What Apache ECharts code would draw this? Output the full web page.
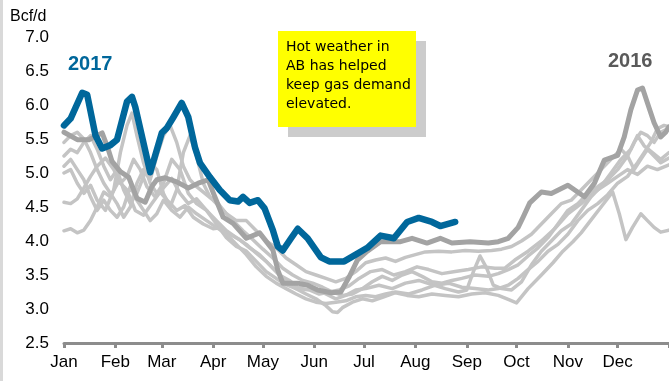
<!DOCTYPE html>
<html>
<head>
<meta charset="utf-8">
<script src="https://cdn.jsdelivr.net/npm/echarts@6/dist/echarts.min.js"></script>
<style>
  html, body { margin: 0; padding: 0; background: #fff; }
  #chart { width: 669px; height: 381px; }
</style>
</head>
<body>
<div id="chart"></div>
<script>
// Alberta gas demand, Bcf/d, by day of year
const monthNames = ['Jan', 'Feb', 'Mar', 'Apr', 'May', 'Jun', 'Jul', 'Aug', 'Sep', 'Oct', 'Nov', 'Dec'];
const monthStarts = [0, 31, 59, 90, 120, 151, 181, 212, 243, 273, 304, 334, 365];

// Earlier years (light grey)
const yearA = [[0,4.15],[4,4.18],[8,4.12],[12,4.16],[16,4.30],[20,4.50],[24,4.72],[28,4.65],[33,4.88],[38,4.75],[43,4.45],[48,4.38],[53,4.55],[58,4.72],[63,4.58],[68,4.45],[73,4.52],[78,4.35],[84,4.25],[90,4.18],[95,4.20],[100,4.10],[106,4.02],[112,3.90],[118,3.80],[124,3.65],[130,3.50],[136,3.42],[142,3.30],[148,3.28],[154,3.22],[160,3.25],[166,3.28],[172,3.34],[178,3.45],[185,3.55],[192,3.58],[199,3.50],[206,3.55],[213,3.62],[220,3.58],[228,3.52],[236,3.55],[244,3.58],[252,3.62],[260,3.60],[266,3.60],[272,3.72],[280,3.85],[288,4.00],[296,4.18],[304,4.40],[312,4.55],[320,4.72],[328,4.85],[334,4.95],[340,5.05],[346,4.98],[352,5.10],[358,5.05],[365,5.12]];
const yearB = [[0,4.57],[4,4.55],[8,4.62],[12,4.78],[16,4.95],[20,5.10],[25,5.22],[30,5.05],[34,4.85],[38,4.95],[42,5.20],[46,5.05],[50,4.80],[55,4.65],[60,4.78],[65,4.92],[70,4.70],[75,4.55],[80,4.62],[86,4.45],[92,4.30],[98,4.15],[104,4.05],[110,3.95],[116,3.82],[122,3.70],[128,3.55],[134,3.40],[140,3.30],[146,3.22],[152,3.15],[158,3.05],[162,2.96],[165,2.95],[168,3.02],[174,3.10],[180,3.15],[186,3.12],[193,3.18],[200,3.24],[207,3.20],[214,3.18],[222,3.22],[230,3.20],[238,3.18],[246,3.22],[254,3.24],[262,3.20],[268,3.14],[273,3.09],[280,3.30],[288,3.50],[295,3.68],[301,3.85],[307,3.99],[312,4.12],[318,4.31],[324,4.50],[331,4.72],[335,4.40],[339,4.02],[343,4.20],[348,4.40],[352,4.30],[356,4.20],[360,4.13],[365,4.16]];
const yearC = [[0,5.00],[4,5.05],[8,4.85],[12,4.70],[16,4.82],[20,4.60],[25,4.45],[30,4.75],[34,5.30],[38,5.70],[41,5.88],[44,5.55],[48,5.15],[52,4.85],[56,4.70],[60,4.85],[65,5.20],[70,5.05],[75,4.70],[80,4.55],[86,4.45],[92,4.25],[98,4.05],[104,3.92],[110,3.85],[116,3.70],[122,3.55],[128,3.45],[134,3.36],[140,3.30],[146,3.35],[152,3.30],[158,3.22],[164,3.15],[170,3.20],[176,3.28],[182,3.30],[190,3.35],[198,3.30],[206,3.38],[214,3.42],[222,3.36],[230,3.30],[238,3.25],[243,3.28],[247,3.55],[251,3.78],[255,3.60],[259,3.35],[264,3.30],[270,3.28],[276,3.40],[282,3.65],[288,3.85],[294,4.00],[300,4.15],[306,4.25],[312,4.45],[318,4.65],[324,4.80],[330,5.00],[336,5.20],[342,5.35],[346,5.55],[350,5.40],[355,5.30],[360,5.20],[365,5.30]];
const yearD = [[0,5.25],[4,5.35],[8,5.30],[12,5.45],[16,5.55],[20,5.35],[24,5.10],[28,4.90],[32,5.05],[36,4.75],[40,4.55],[44,4.70],[48,4.95],[52,5.15],[56,5.05],[60,4.70],[64,4.50],[68,4.75],[72,5.30],[76,5.55],[80,5.25],[84,4.85],[88,4.65],[93,4.55],[98,4.40],[104,4.30],[110,4.30],[116,4.15],[122,4.00],[128,3.90],[134,3.75],[140,3.65],[146,3.55],[152,3.50],[158,3.45],[164,3.40],[170,3.45],[176,3.55],[182,3.68],[188,3.72],[194,3.75],[200,3.70],[206,3.76],[212,3.80],[218,3.84],[226,3.85],[234,3.84],[242,3.86],[250,3.85],[258,3.86],[264,3.88],[270,3.92],[276,4.00],[282,4.10],[288,4.25],[294,4.40],[300,4.55],[306,4.60],[312,4.75],[318,4.90],[324,5.05],[330,5.20],[336,5.35],[340,5.25],[344,5.45],[348,5.60],[352,5.55],[356,5.45],[360,5.60],[365,5.66]];
const yearE = [[0,5.45],[4,5.55],[8,5.60],[12,5.50],[16,5.30],[20,5.05],[24,4.85],[28,4.70],[32,4.55],[36,4.35],[40,4.50],[44,4.85],[48,5.05],[52,4.90],[56,5.25],[60,5.55],[64,5.70],[68,5.45],[72,5.10],[76,4.90],[80,4.80],[85,4.70],[90,4.60],[96,4.45],[102,4.30],[108,4.15],[114,4.02],[120,3.88],[126,3.75],[132,3.60],[138,3.50],[144,3.42],[150,3.38],[156,3.32],[162,3.25],[168,3.20],[174,3.22],[180,3.30],[186,3.40],[192,3.48],[198,3.42],[204,3.50],[210,3.55],[216,3.48],[222,3.40],[228,3.38],[234,3.42],[240,3.45],[248,3.50],[256,3.48],[262,3.52],[268,3.58],[274,3.65],[280,3.78],[286,3.90],[292,4.05],[298,4.25],[304,4.45],[310,4.55],[316,4.70],[322,4.80],[328,4.90],[334,5.05],[340,5.25],[344,5.05],[348,5.20],[352,5.35],[356,5.25],[360,5.15],[365,5.22]];
const yearF = [[0,5.10],[4,5.20],[8,5.05],[12,4.90],[16,4.65],[20,4.45],[24,4.60],[28,4.45],[32,4.35],[36,4.50],[40,4.80],[44,4.60],[48,4.45],[52,4.30],[56,4.40],[60,4.60],[65,4.45],[70,4.35],[75,4.50],[80,4.40],[86,4.30],[92,4.20],[98,4.10],[104,3.95],[110,3.80],[116,3.62],[122,3.48],[128,3.38],[134,3.30],[140,3.22],[146,3.15],[152,3.10],[158,3.08],[164,3.10],[170,3.12],[176,3.18],[182,3.20],[188,3.18],[194,3.22],[200,3.25],[208,3.22],[216,3.28],[224,3.35],[232,3.38],[240,3.32],[248,3.30],[256,3.28],[262,3.30],[268,3.35],[274,3.45],[280,3.58],[286,3.70],[292,3.85],[298,3.95],[304,4.10],[310,4.30],[316,4.45],[322,4.55],[328,4.68],[334,4.85],[340,4.95],[346,5.15],[350,5.30],[354,5.45],[358,5.65],[362,5.70],[365,5.68]];

// 2016 (dark grey)
const year2016 = [[0,5.60],[8,5.49],[15,5.49],[23,5.59],[26,5.40],[29,5.17],[34,5.02],[39,4.94],[44,4.63],[49,4.57],[53,4.80],[56,4.90],[61,4.93],[68,4.87],[75,4.78],[81,4.85],[87,4.90],[90,4.71],[96,4.35],[102,4.26],[110,4.04],[118,4.12],[126,3.87],[129,3.57],[132,3.38],[141,3.38],[147,3.35],[153,3.28],[161,3.24],[167,3.25],[172,3.47],[177,3.72],[183,3.85],[191,3.99],[203,3.99],[210,4.04],[219,3.97],[227,4.04],[234,3.97],[245,3.99],[256,3.97],[262,3.99],[268,4.04],[274,4.20],[277,4.35],[281,4.56],[288,4.72],[294,4.70],[304,4.82],[314,4.65],[320,4.85],[326,5.19],[334,5.26],[338,5.53],[342,5.93],[346,6.22],[349,6.25],[352,6.03],[356,5.74],[360,5.53],[363,5.60],[365,5.68]];

// 2017 year to date (blue)
const year2017 = [[0,5.70],[4,5.80],[11,6.18],[14,6.15],[19,5.55],[23,5.36],[28,5.41],[32,5.49],[38,6.05],[41,6.12],[43,5.97],[52,5.01],[59,5.59],[62,5.66],[66,5.82],[71,6.03],[75,5.82],[79,5.38],[82,5.15],[88,4.94],[94,4.75],[100,4.60],[105,4.58],[108,4.65],[112,4.56],[117,4.60],[121,4.48],[126,4.16],[129,3.92],[132,3.86],[137,4.04],[141,4.18],[147,4.04],[155,3.76],[160,3.70],[169,3.70],[176,3.80],[183,3.90],[191,4.08],[199,4.04],[207,4.28],[214,4.34],[222,4.28],[227,4.22],[236,4.28]];

const greyYears = [yearA, yearB, yearC, yearD, yearE, yearF];
const noteLines = ['Hot weather in', 'AB has helped', 'keep gas demand', 'elevated.'];

const chart = echarts.init(document.getElementById('chart'), null, { renderer: 'canvas' });

function lineSeries(data, color, width, z) {
  return {
    type: 'line',
    data: data,
    showSymbol: false,
    symbol: 'none',
    z: z,
    lineStyle: { color: color, width: width, cap: 'round', join: 'round' },
    emphasis: { disabled: true },
    animation: false
  };
}

const series = greyYears.map(d => lineSeries(d, '#c4c4c4', 3.5, 2));
series.push(lineSeries(year2016, '#a3a3a3', 5, 3));
series.push(lineSeries(year2017, '#00679b', 6.5, 4));

chart.setOption({
  animation: false,
  backgroundColor: '#ffffff',
  grid: { left: 64, right: 0, top: 37, bottom: 38, containLabel: false },
  xAxis: {
    type: 'value',
    min: 0,
    max: 365,
    splitLine: { show: false },
    axisLine: { show: true, lineStyle: { color: '#8c8c8c', width: 3 } },
    axisTick: {
      show: true, length: 5, inside: false,
      lineStyle: { color: '#8c8c8c', width: 3 },
      customValues: monthStarts
    },
    axisLabel: {
      customValues: monthStarts.slice(0, 12),
      formatter: v => monthNames[monthStarts.indexOf(v)],
      color: '#000', fontSize: 17, fontFamily: 'Liberation Sans, Arial, sans-serif',
      margin: 11
    }
  },
  yAxis: {
    type: 'value',
    min: 2.5,
    max: 7,
    interval: 0.5,
    splitLine: { show: false },
    axisLine: { show: false },
    axisTick: { show: false },
    axisLabel: {
      formatter: v => v.toFixed(1),
      color: '#000', fontSize: 17, fontFamily: 'Liberation Sans, Arial, sans-serif',
      margin: 15
    }
  },
  series: series,
  graphic: [
    { type: 'rect', left: 0, top: 0, shape: { width: 3, height: 381 }, style: { fill: '#d9d9d9' }, silent: true },
    { type: 'text', left: 10, top: 9, style: { text: 'Bcf/d', fill: '#000', font: '16px "Liberation Sans", Arial, sans-serif' } },
    { type: 'text', left: 68, top: 54, style: { text: '2017', fill: '#00679b', font: 'bold 20px "Liberation Sans", Arial, sans-serif' } },
    { type: 'text', left: 608, top: 51, style: { text: '2016', fill: '#5a5a5a', font: 'bold 20px "Liberation Sans", Arial, sans-serif' } },
    { type: 'rect', left: 288, top: 41, shape: { width: 138, height: 96 }, style: { fill: '#cccccc' }, z: 10 },
    { type: 'rect', left: 278, top: 31, shape: { width: 138, height: 96 }, style: { fill: '#ffff00' }, z: 11 },
    {
      type: 'text', left: 286, top: 38, z: 12,
      style: {
        text: noteLines.join('\n'),
        fill: '#000',
        font: '14px "Comic Sans MS", "DejaVu Sans", sans-serif',
        lineHeight: 19
      }
    }
  ]
});
</script>
</body>
</html>
